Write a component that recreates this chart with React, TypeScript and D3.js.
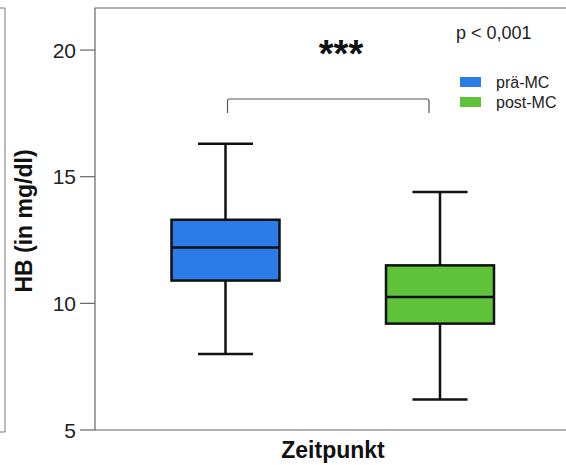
import React from "react";
import * as d3 from "d3";

const groups = ["prä-MC", "post-MC"];
const colors = ["#2d7be6", "#5ec23a"];
const whiskerLow = [8.0, 6.2];
const q1 = [10.9, 9.2];
const median = [12.2, 10.25];
const q3 = [13.3, 11.5];
const whiskerHigh = [16.3, 14.4];
const yTicks = [5, 10, 15, 20];
const pText = "p < 0,001";
const sigText = "***";

export default function App() {
  const W = 566, H = 465;
  const left = 95, top = 8, bottom = 430;
  const y = d3.scaleLinear().domain([5, 21.66]).range([bottom, top]);
  const x = d3.scalePoint().domain(groups).range([225.5, 440]);
  const boxW = 108;
  const capW = 55;
  return (
    <div style={{ position: "absolute", left: 0, top: 0 }}>
      <svg width={W} height={H} style={{ display: "block", fontFamily: "Liberation Sans, Arial, sans-serif" }}>
        <rect width={W} height={H} fill="#fff" />
        <path d={`M0,8 H5 V432 H0`} fill="none" stroke="#777" strokeWidth={1} />
        <path d={`M${W},${top} H${left} V${bottom} H${W}`} fill="none" stroke="#666" strokeWidth={1.2} />
        {yTicks.map((t) => (
          <g key={t}>
            <line x1={80} x2={left} y1={y(t)} y2={y(t)} stroke="#666" strokeWidth={1.2} />
            <text x={76} y={y(t)} dy="0.36em" textAnchor="end" fontSize={21} fill="#222">{t}</text>
          </g>
        ))}
        <text transform={`translate(32,221) rotate(-90)`} textAnchor="middle" fontSize={23} fontWeight="bold" fill="#111">HB (in mg/dl)</text>
        <text x={333} y={458} textAnchor="middle" fontSize={23} fontWeight="bold" fill="#111">Zeitpunkt</text>
        {groups.map((g, i) => {
          const cx = x(g) as number;
          return (
            <g key={g} stroke="#111" strokeWidth={2.5}>
              <line x1={cx} x2={cx} y1={y(whiskerHigh[i])} y2={y(q3[i])} />
              <line x1={cx} x2={cx} y1={y(q1[i])} y2={y(whiskerLow[i])} />
              <line x1={cx - capW / 2} x2={cx + capW / 2} y1={y(whiskerHigh[i])} y2={y(whiskerHigh[i])} />
              <line x1={cx - capW / 2} x2={cx + capW / 2} y1={y(whiskerLow[i])} y2={y(whiskerLow[i])} />
              <rect x={cx - boxW / 2} y={y(q3[i])} width={boxW} height={y(q1[i]) - y(q3[i])} fill={colors[i]} />
              <line x1={cx - boxW / 2} x2={cx + boxW / 2} y1={y(median[i])} y2={y(median[i])} />
            </g>
          );
        })}
        {(() => {
          const a = (x(groups[0]) as number) + 2;
          const b = (x(groups[1]) as number) - 11;
          return (
            <path d={`M${a},113 V101 Q${a},99 ${a + 2},99 H${b - 2} Q${b},99 ${b},101 V113`} fill="none" stroke="#555" strokeWidth={1.2} />
          );
        })()}
        <text x={341} y={67} textAnchor="middle" fontSize={38} fontWeight="bold" fill="#111">{sigText}</text>
        <text x={456} y={39} fontSize={18} fill="#222">{pText}</text>
        {groups.map((g, i) => (
          <g key={g}>
            <rect x={460} y={77 + i * 20} width={21} height={10} fill={colors[i]} />
            <text x={496} y={82 + i * 20} dy="0.36em" fontSize={16} fill="#222">{g}</text>
          </g>
        ))}
      </svg>
    </div>
  );
}
